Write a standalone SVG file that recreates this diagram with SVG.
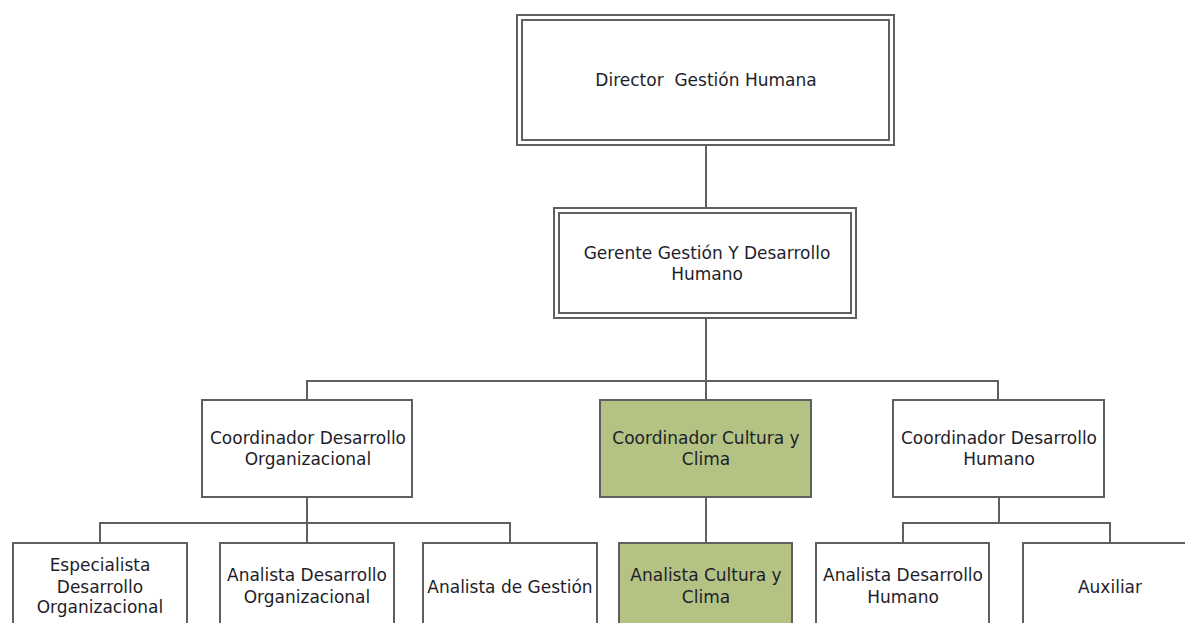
<svg xmlns="http://www.w3.org/2000/svg" width="1185" height="623" viewBox="0 0 1185 623">
<style>
.box{fill:#fff;stroke:#5f5f5f;stroke-width:2}
.green{fill:#b4c283;stroke:#5f5f5f;stroke-width:2}
.line{fill:none;stroke:#5f5f5f;stroke-width:2}
text{font-family:"DejaVu Sans","Liberation Sans",sans-serif;font-size:17px;fill:#1e1e2a;text-anchor:middle;dominant-baseline:central}
</style>
<rect width="1185" height="623" fill="#fff"/>
<g id="connectors">
<path class="line" d="M706 145V208"/>
<path class="line" d="M706 318V400"/>
<path class="line" d="M307 400V381H998V400"/>
<path class="line" d="M307 497V543M100 543V523H510V543"/>
<path class="line" d="M706 497V543"/>
<path class="line" d="M999 497V523M903 543V523H1110V543"/>
</g>
<g id="director">
<rect class="box" x="517" y="15" width="377" height="130"/>
<rect class="box" x="522" y="20" width="367" height="120"/>
<text x="706" y="80">Director&#160; Gestión Humana</text>
</g>
<g id="gerente">
<rect class="box" x="554" y="208" width="302" height="110"/>
<rect class="box" x="559" y="213" width="292" height="100"/>
<text x="707" y="253">Gerente Gestión Y Desarrollo</text>
<text x="707" y="274">Humano</text>
</g>
<g id="coord-do">
<rect class="box" x="202" y="400" width="210" height="97"/>
<text x="308" y="438">Coordinador Desarrollo</text>
<text x="308" y="459">Organizacional</text>
</g>
<g id="coord-cc">
<rect class="green" x="600" y="400" width="211" height="97"/>
<text x="706" y="438">Coordinador Cultura y</text>
<text x="706" y="459">Clima</text>
</g>
<g id="coord-dh">
<rect class="box" x="893" y="400" width="211" height="97"/>
<text x="999" y="438">Coordinador Desarrollo</text>
<text x="999" y="459">Humano</text>
</g>
<g id="especialista">
<rect class="box" x="13" y="543" width="174" height="100"/>
<text x="100" y="565">Especialista</text>
<text x="100" y="587">Desarrollo</text>
<text x="100" y="607">Organizacional</text>
</g>
<g id="analista-do">
<rect class="box" x="220" y="543" width="174" height="100"/>
<text x="307" y="575">Analista Desarrollo</text>
<text x="307" y="597">Organizacional</text>
</g>
<g id="analista-gestion">
<rect class="box" x="423" y="543" width="174" height="100"/>
<text x="510" y="587">Analista de Gestión</text>
</g>
<g id="analista-cc">
<rect class="green" x="619" y="543" width="173" height="100"/>
<text x="706" y="575">Analista Cultura y</text>
<text x="706" y="597">Clima</text>
</g>
<g id="analista-dh">
<rect class="box" x="816" y="543" width="173" height="100"/>
<text x="903" y="575">Analista Desarrollo</text>
<text x="903" y="597">Humano</text>
</g>
<g id="auxiliar">
<rect class="box" x="1023" y="543" width="174" height="100"/>
<text x="1110" y="587">Auxiliar</text>
</g>
</svg>
